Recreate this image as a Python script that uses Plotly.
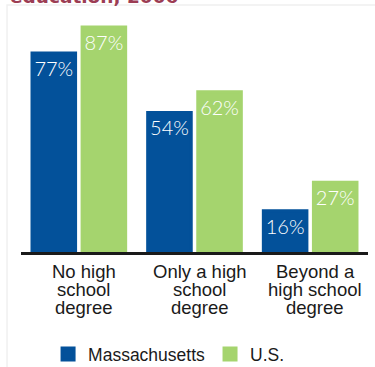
import plotly.graph_objects as go

# ---- data ----
categories = ["No high school degree", "Only a high school degree", "Beyond a high school degree"]
label_lines = [["No high", "school", "degree"],
               ["Only a high", "school", "degree"],
               ["Beyond a", "high school", "degree"]]
ma_values = [77, 54, 16]
us_values = [87, 62, 27]
series_names = ["Massachusetts", "U.S."]
title_text = "education, 2006"

BLUE = "#03519a"
GREEN = "#a5d46e"
TEXT = "#1a1a1a"

fig = go.Figure()
for name, vals, col in [(series_names[0], ma_values, BLUE), (series_names[1], us_values, GREEN)]:
    fig.add_trace(go.Bar(
        x=categories, y=vals, name=name,
        marker=dict(color=col, line=dict(color=col, width=3)),
        text=[f"{v}%" for v in vals], textposition="inside", insidetextanchor="end",
        textangle=0, constraintext="none",
        textfont=dict(family="Lato", size=20, color="white", weight=300),
        hoverinfo="skip"))

# category labels (tight line spacing)
for cat, lines in zip(categories, label_lines):
    for j, line in enumerate(lines):
        fig.add_annotation(x=cat, xref="x", y=0, yref="paper", text=line,
                           showarrow=False, xshift=5, yshift=-19.5 - 18 * j,
                           yanchor="middle", xanchor="center",
                           font=dict(family="Liberation Sans", size=18.5, color=TEXT))

# cut-off title
fig.add_annotation(x=-0.0375, xref="paper", y=1.0385, yref="paper", text=f"<b>{title_text}</b>",
                   showarrow=False, xanchor="left", yanchor="bottom",
                   font=dict(family="DejaVu Sans", size=18.5, color="#9c3d54"))

# faint frame
fig.add_shape(type="rect", xref="paper", yref="paper", x0=-0.0403, x1=1.03, y0=-0.7, y1=1.0556,
              line=dict(color="#f0f0f0", width=1.5), layer="below")

fig.update_layout(
    width=375, height=367,
    margin=dict(l=21, r=7, t=18, b=115, autoexpand=False),
    paper_bgcolor="white", plot_bgcolor="white",
    barmode="group", bargap=0.134, bargroupgap=0.13,
    showlegend=True,
    legend=dict(orientation="h", x=0.078, xanchor="left", y=-0.436, yanchor="middle",
                font=dict(family="Liberation Sans", size=17.5, color=TEXT),
                itemclick=False, itemdoubleclick=False, traceorder="normal",
                bgcolor="rgba(0,0,0,0)"),
    xaxis=dict(showticklabels=False, showline=True, linecolor=TEXT, linewidth=3,
               ticks="", showgrid=False, zeroline=False, range=[-0.5, 2.5], fixedrange=True,
               automargin=False),
    yaxis=dict(visible=False, range=[0, 90.5], fixedrange=True, automargin=False),
)

fig.write_html("out.html", config={"displayModeBar": False},
               post_script="document.body.style.margin='0px';document.body.style.overflow='hidden';")
